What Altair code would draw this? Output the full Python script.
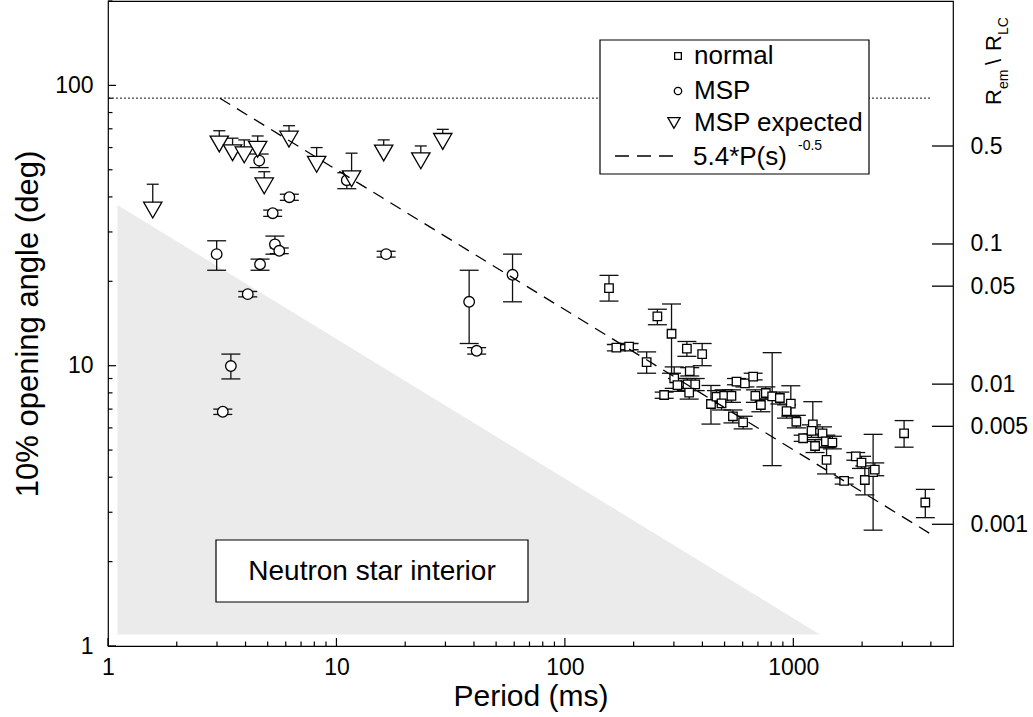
import math
import altair as alt
import pandas as pd

FONT = "Liberation Sans"
W, H = 845, 645

# ---------------- data ----------------
# MSP (circles): period (ms), 10% opening angle (deg), error low/high
msp_period = [4.59, 6.22, 5.26, 5.38, 5.62, 2.99, 4.63, 4.09, 16.5, 3.45, 3.18, 11.1, 38.1, 59.0, 41.1]
msp_angle = [53.9, 39.9, 35.0, 27.1, 25.7, 25.0, 23.0, 18.0, 25.0, 9.97, 6.85, 45.9, 16.9, 21.1, 11.3]
msp_lo = [50.9, 38.9, 34.1, 25.0, 25.1, 21.9, 21.9, 17.6, 24.4, 8.97, 6.70, 42.8, 12.0, 16.9, 11.0]
msp_hi = [56.9, 40.9, 35.9, 29.0, 26.3, 27.9, 24.0, 18.4, 25.6, 11.0, 7.00, 48.8, 21.9, 25.0, 11.6]

# MSP expected (down triangles): period, angle, upper error
exp_period = [1.57, 3.07, 3.51, 3.95, 4.52, 6.20, 4.83, 8.19, 11.65, 16.1, 23.4, 29.2]
exp_angle = [35.9, 61.8, 57.5, 56.5, 59.2, 64.3, 43.8, 52.3, 46.4, 57.4, 53.8, 63.1]
exp_hi = [44.4, 68.9, 64.8, 63.9, 66.0, 71.8, 49.2, 60.0, 57.3, 63.9, 60.8, 69.7]

# normal pulsars (squares)
norm_period = [156, 254, 293, 168, 191, 228, 342, 399, 352, 301, 311, 344, 372, 350, 272,
               436, 461, 498, 536, 485, 544, 603, 564, 614, 667, 682, 721, 758, 808, 873,
               975, 934, 1031, 1104, 1217, 1201, 1342, 1388, 1482, 1245, 1398, 1669, 1877,
               1988, 2056, 2235, 2273, 3054, 3782]
norm_angle = [18.9, 15.0, 13.0, 11.6, 11.7, 10.3, 11.5, 11.0, 9.57, 9.02, 8.53, 8.58, 8.58, 8.01, 7.86,
              7.30, 7.75, 7.80, 7.80, 7.34, 6.60, 6.28, 8.77, 8.65, 9.14, 7.80, 7.24, 7.99, 7.77, 7.67,
              7.32, 6.88, 6.31, 5.51, 6.18, 5.85, 5.74, 5.37, 5.32, 5.17, 4.61, 3.88, 4.75,
              4.51, 3.91, 4.17, 4.26, 5.74, 3.25]
norm_lo = [17.0, 14.0, 9.4, 11.3, 11.4, 9.4, 10.8, 10.0, 9.19, 8.3, 8.1, 8.15, 8.15, 7.6, 7.65,
           6.19, 7.35, 7.4, 7.4, 6.95, 6.25, 5.95, 8.55, 8.4, 8.9, 7.4, 6.85, 7.6, 4.40, 7.3,
           6.6, 6.5, 6.0, 5.37, 5.7, 5.55, 5.45, 5.1, 5.05, 4.9, 4.11, 3.78, 4.6,
           4.3, 3.46, 2.59, 4.05, 5.12, 2.87]
norm_hi = [21.0, 15.9, 16.6, 11.9, 12.0, 11.2, 12.2, 12.0, 9.84, 9.9, 9.0, 9.0, 9.0, 8.4, 8.05,
           8.50, 8.15, 8.2, 8.2, 7.7, 6.95, 6.6, 9.0, 8.9, 9.4, 8.2, 7.6, 8.4, 11.13, 8.05,
           8.48, 7.25, 6.65, 5.65, 7.44, 6.15, 6.05, 5.65, 5.6, 5.45, 5.13, 3.98, 4.9,
           4.75, 4.39, 5.69, 4.5, 6.37, 3.62]

# fitted dashed line (end points as drawn)
fit_period = [3.09, 3960]
fit_angle = [90.0, 2.52]

# neutron star interior region
ns_period = [1.1, 1306]
ns_top = [37.4, 1.1]
ns_bottom = [1.1, 1.1]

# dotted 90 deg level
dot_level = [90]
dot_from = [1]
dot_to = [4000]

# axes
x_major = [1, 10, 100, 1000]
x_minor = [m * 10 ** d for d in range(0, 4) for m in range(2, 10) if m * 10 ** d < 5000]
y_major = [1, 10, 100]
y_minor = [m * 10 ** d for d in range(0, 3) for m in range(2, 10) if m * 10 ** d <= 200]
r_ticks = [0.5, 0.1, 0.05, 0.01, 0.005, 0.001]
K = 1.5 * 180 / math.pi        # opening angle (deg) = K * sqrt(R_em/R_LC)
R_MIN = (1 / K) ** 2
R_MAX = (200 / K) ** 2

# ---------------- frames ----------------
msp_df = pd.DataFrame({"P": msp_period, "A": msp_angle, "lo": msp_lo, "hi": msp_hi})
exp_df = pd.DataFrame({"P": exp_period, "A": exp_angle, "hi": exp_hi})
norm_df = pd.DataFrame({"P": norm_period, "A": norm_angle, "lo": norm_lo, "hi": norm_hi})
fit_df = pd.DataFrame({"P": fit_period, "A": fit_angle})
ns_df = pd.DataFrame({"P": ns_period, "A": ns_top, "bottom": ns_bottom})
dot_df = pd.DataFrame({"P": dot_from, "x2": dot_to, "A": dot_level})
xmaj_df = pd.DataFrame({"P": x_major})
xmin_df = pd.DataFrame({"P": x_minor})
ymaj_df = pd.DataFrame({"A": y_major})
ymin_df = pd.DataFrame({"A": y_minor})
r_df = pd.DataFrame({"r": r_ticks})
one = pd.DataFrame({"k": [0]})

xs = alt.Scale(type="log", domain=[1, 5000], nice=False)
ys = alt.Scale(type="log", domain=[1, 200], nice=False)

x_axis = alt.Axis(values=x_major, format="d", ticks=False, domain=False, grid=False,
                  labelFontSize=23, labelPadding=10, labelFlush=False, labelOverlap=False,
                  labelColor="black", labelFont=FONT,
                  title="Period (ms)", titleFontSize=30, titleFontWeight="normal", titleFont=FONT,
                  titleColor="black", titleX=W / 2, titleY=50, titleBaseline="middle",
                  titleAlign="center")
y_axis = alt.Axis(values=y_major, format="d", ticks=False, domain=False, grid=False,
                  labelFontSize=23, labelPadding=15, labelFlush=False, labelOverlap=False,
                  labelColor="black", labelFont=FONT,
                  title="10% opening angle (deg)", titleFontSize=31, titleFontWeight="normal",
                  titleFont=FONT, titleColor="black", titleX=-80, titleY=H / 2,
                  titleAngle=270, titleBaseline="middle", titleAlign="center")


def XQ(f):
    return alt.X(f, type="quantitative", scale=xs, axis=x_axis)


def YQ(f):
    return alt.Y(f, type="quantitative", scale=ys, axis=y_axis)


ns_area = alt.Chart(ns_df).mark_area(color="#ebebeb").encode(x=XQ("P"), y=YQ("A"), y2="bottom:Q")

ns_box = alt.Chart(one).mark_rect(fill="white", stroke="black", strokeWidth=1.2).encode(
    x=alt.value(108), x2=alt.value(420), y=alt.value(539), y2=alt.value(601))
ns_text = alt.Chart(one).mark_text(text="Neutron star interior", font=FONT, fontSize=28,
                                   color="black", align="center", baseline="middle").encode(
    x=alt.value(264), y=alt.value(571))

dotted = alt.Chart(dot_df).mark_rule(color="#444", strokeDash=[2, 2], strokeWidth=1.2).encode(
    x=XQ("P"), x2="x2", y=YQ("A"))

ERR = dict(color="#111", strokeWidth=1.3)


def err_layers(df, has_lo, cap):
    out = []
    lo_field = "lo" if has_lo else "A"
    e = df.rename(columns={"A": "A_pt"}).rename(columns={lo_field if lo_field != "A" else "A_pt": "A"})
    out.append(alt.Chart(e).mark_rule(**ERR).encode(x=XQ("P"), y=YQ("A"), y2="hi:Q"))
    if has_lo:
        out.append(alt.Chart(e).mark_tick(orient="horizontal", size=cap, thickness=1.3,
                                          color="#111", opacity=1).encode(x=XQ("P"), y=YQ("A")))
    h = df.drop(columns=["A"]).rename(columns={"hi": "A"})
    out.append(alt.Chart(h).mark_tick(orient="horizontal", size=cap, thickness=1.3,
                                      color="#111", opacity=1).encode(x=XQ("P"), y=YQ("A")))
    return out


PT = dict(filled=True, fill="white", stroke="black", strokeWidth=1.3, opacity=1)
norm_pts = alt.Chart(norm_df).mark_point(shape="square", size=72, **PT).encode(x=XQ("P"), y=YQ("A"))
msp_pts = alt.Chart(msp_df).mark_point(shape="circle", size=112, **PT).encode(x=XQ("P"), y=YQ("A"))
exp_pts = alt.Chart(exp_df).mark_point(shape="triangle-down", size=335, **PT).encode(x=XQ("P"), y=YQ("A"))

fit_line = alt.Chart(fit_df).mark_line(color="black", strokeWidth=1.3, strokeDash=[12, 8]).encode(
    x=XQ("P"), y=YQ("A"))

# inward tick marks
TK = dict(color="black", strokeWidth=1.2)
xt_major = alt.Chart(xmaj_df).mark_rule(**TK).encode(x=XQ("P"), y=alt.value(H), y2=alt.value(H - 8))
xt_minor = alt.Chart(xmin_df).mark_rule(**TK).encode(x=XQ("P"), y=alt.value(H), y2=alt.value(H - 4.5))
yt_major = alt.Chart(ymaj_df).mark_rule(**TK).encode(y=YQ("A"), x=alt.value(0), x2=alt.value(8))
yt_minor = alt.Chart(ymin_df).mark_rule(**TK).encode(y=YQ("A"), x=alt.value(0), x2=alt.value(4.5))

# legend (drawn by hand)
LX0, LX1, LY0, LY1 = 492, 761, 39, 173
leg_box = alt.Chart(one).mark_rect(fill="white", stroke="black", strokeWidth=1.2).encode(
    x=alt.value(LX0), x2=alt.value(LX1), y=alt.value(LY0), y2=alt.value(LY1))
leg_sq = alt.Chart(one).mark_point(shape="square", size=45, **PT).encode(x=alt.value(570), y=alt.value(55))
leg_ci = alt.Chart(one).mark_point(shape="circle", size=55, **PT).encode(x=alt.value(570), y=alt.value(90))
leg_tr = alt.Chart(one).mark_point(shape="triangle-down", size=150, **PT).encode(x=alt.value(566), y=alt.value(122))
leg_dash = alt.Chart(one).mark_rule(color="black", strokeWidth=1.3, strokeDash=[14, 8]).encode(
    x=alt.value(507), x2=alt.value(571), y=alt.value(155))
LT = dict(font=FONT, fontSize=26, color="black", align="left", baseline="middle")
leg_t1 = alt.Chart(one).mark_text(text="normal", **LT).encode(x=alt.value(586), y=alt.value(55))
leg_t2 = alt.Chart(one).mark_text(text="MSP", **LT).encode(x=alt.value(586), y=alt.value(90))
leg_t3 = alt.Chart(one).mark_text(text="MSP expected", **LT).encode(x=alt.value(586), y=alt.value(122))
leg_t4 = alt.Chart(one).mark_text(text="5.4*P(s)", **LT).encode(x=alt.value(585), y=alt.value(156))
leg_t5 = alt.Chart(one).mark_text(text="-0.5", font=FONT, fontSize=14, color="black",
                                  align="left", baseline="bottom").encode(x=alt.value(690), y=alt.value(152))

# right axis title R_em \ R_LC (rotated, with subscripts)
RT = dict(font=FONT, color="black", align="left", baseline="alphabetic", angle=270)
rt1 = alt.Chart(one).mark_text(text="R", fontSize=22, **RT).encode(x=alt.value(893), y=alt.value(104))
rt2 = alt.Chart(one).mark_text(text="em", fontSize=14, **RT).encode(x=alt.value(900), y=alt.value(88))
rt3 = alt.Chart(one).mark_text(text="\\", fontSize=22, **RT).encode(x=alt.value(893), y=alt.value(64))
rt4 = alt.Chart(one).mark_text(text="R", fontSize=22, **RT).encode(x=alt.value(893), y=alt.value(50))
rt5 = alt.Chart(one).mark_text(text="LC", fontSize=14, **RT).encode(x=alt.value(900), y=alt.value(34))

main = alt.layer(
    ns_area, ns_box, ns_text, dotted,
    *err_layers(norm_df, True, 19),
    *err_layers(msp_df, True, 19),
    *err_layers(exp_df, False, 12),
    norm_pts, msp_pts, exp_pts, fit_line,
    xt_major, xt_minor, yt_major, yt_minor,
    leg_box, leg_sq, leg_ci, leg_tr, leg_dash, leg_t1, leg_t2, leg_t3, leg_t4, leg_t5,
    rt1, rt2, rt3, rt4, rt5,
)

right_axis = alt.Chart(r_df).mark_rule(color="black", strokeWidth=1.3).encode(
    y=alt.Y("r:Q", scale=alt.Scale(type="log", domain=[R_MIN, R_MAX], nice=False),
            axis=alt.Axis(orient="right", values=r_ticks, format="~g", ticks=False, domain=False,
                          grid=False, labelFontSize=23, labelPadding=17, labelFlush=False,
                          labelOverlap=False, labelColor="black", labelFont=FONT, title="")),
    x=alt.value(W - 21), x2=alt.value(W),
)

chart = alt.layer(main, right_axis).resolve_scale(y="independent").properties(
    width=W, height=H,
    autosize=alt.AutoSizeParams(type="none"),
    padding={"left": 108, "top": 1, "right": 80, "bottom": 71},
    background="white",
).configure_view(stroke="black", strokeWidth=1.2)

chart.save("out.html", embed_options={"renderer": "svg", "actions": False})
